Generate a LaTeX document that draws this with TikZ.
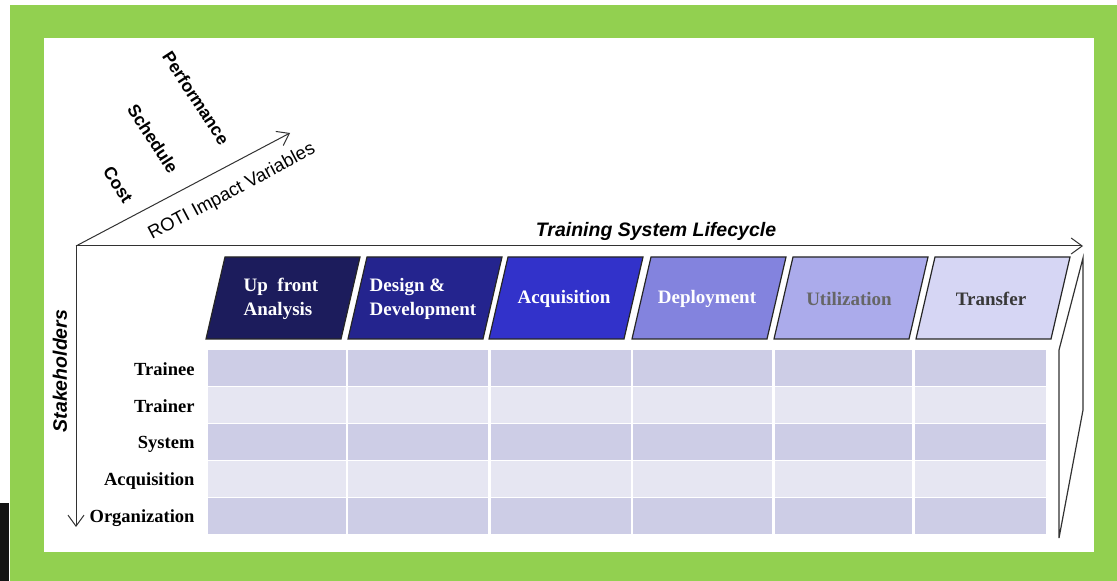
\documentclass[tikz,border=0pt]{standalone}
\usepackage{fontspec}
\setmainfont{Liberation Serif}
\setsansfont{Liberation Sans}
\usetikzlibrary{arrows.meta}
\definecolor{framegreen}{RGB}{146,208,80}
\definecolor{phaseA}{RGB}{28,28,92}
\definecolor{phaseB}{RGB}{36,36,142}
\definecolor{phaseC}{RGB}{50,50,202}
\definecolor{phaseD}{RGB}{131,131,222}
\definecolor{phaseE}{RGB}{171,171,235}
\definecolor{phaseF}{RGB}{214,214,244}
\definecolor{rowdark}{RGB}{205,205,230}
\definecolor{rowlight}{RGB}{230,230,242}
\definecolor{axisgray}{RGB}{50,50,50}
\begin{document}
\begin{tikzpicture}[x=1pt,y=1pt,
  axisline/.style={draw=axisgray, line width=1pt,
    -{Straight Barb[length=11pt,width=16pt,line width=1pt]}},
  axislabel/.style={font=\sffamily\bfseries\itshape\fontsize{19.5}{22}\selectfont, text=black, inner sep=0pt},
  varlabel/.style={font=\sffamily\bfseries\fontsize{17.5}{20}\selectfont, text=black, rotate=-57, inner sep=0pt},
  phasebox/.style={draw=black!85, line width=1.2pt},
  phasetext/.style={font=\rmfamily\bfseries\fontsize{19}{23.5}\selectfont, align=left},
  rowlabel/.style={font=\rmfamily\bfseries\fontsize{18.5}{22}\selectfont, anchor=east, text=black},
  sidebox/.style={draw=axisgray, line width=1.2pt}]

% canvas and frame
\useasboundingbox (0,0) rectangle (1117,581);
\fill[white] (0,0) rectangle (1117,581);
\fill[framegreen] (10,0) rectangle (1117,576);
\fill[black!92] (0,0) rectangle (9,78);
\fill[white] (44,29) rectangle (1094,543);

% axes
\coordinate (O) at (76,335);
\coordinate (lifeEnd) at (1083,335);
\coordinate (stakeEnd) at (76,54);
\coordinate (roti) at (290,448);
\draw[axisline] (O) -- (lifeEnd);
\draw[axisline] (O) -- (stakeEnd);
\draw[axisline] (O) -- (roti);

\node[axislabel] (lifecycle) at (656,350) {Training System Lifecycle};
\node[axislabel, rotate=90] (stake) at (60,210) {Stakeholders};
\node[font=\sffamily\fontsize{18.5}{21}\selectfont, rotate=28, inner sep=0pt] (rotilabel) at (232,389) {ROTI Impact Variables};
\node[varlabel] (perf) at (196,483) {Performance};
\node[varlabel] (sched) at (153,442) {Schedule};
\node[varlabel] (cost) at (118,396) {Cost};

% lifecycle phases
\foreach \tl/\col/\txt/\tc/\nm in {
  225/phaseA/{Up~ front\\Analysis}/white/pA,
  367/phaseB/{Design \&\\Development}/white/pB,
  508/phaseC/{Acquisition}/white/pC,
  651/phaseD/{Deployment}/white/pD,
  793/phaseE/{Utilization}/black!60/pE,
  935/phaseF/{Transfer}/black!78/pF} {
  \filldraw[phasebox, fill=\col] (\tl,324) -- ({\tl+135},324) -- ({\tl+116},242) -- ({\tl-19},242) -- cycle;
  \node[phasetext, text=\tc] (\nm) at ({\tl+56},282) {\txt};
}

% stakeholder grid
\foreach \r/\rc in {0/rowdark,1/rowlight,2/rowdark,3/rowlight,4/rowdark} {
  \foreach \xa/\xb in {208/346,348/488,491/631,633/772,775/912,915/1046} {
    \fill[\rc] (\xa,{231-37.1*\r-35.6}) rectangle (\xb,{231-37.1*\r});
  }
}
\node[rowlabel] (rTrainee) at (198,212) {Trainee};
\node[rowlabel] (rTrainer) at (198,175) {Trainer};
\node[rowlabel] (rSystem) at (198,137) {System};
\node[rowlabel] (rAcq) at (198,100) {Acquisition};
\node[rowlabel] (rOrg) at (198,63) {Organization};

% right side face of the box
\draw[sidebox] (1083,323) -- (1059,231) -- (1059,43) -- (1083,171) -- cycle;
\end{tikzpicture}
\end{document}
